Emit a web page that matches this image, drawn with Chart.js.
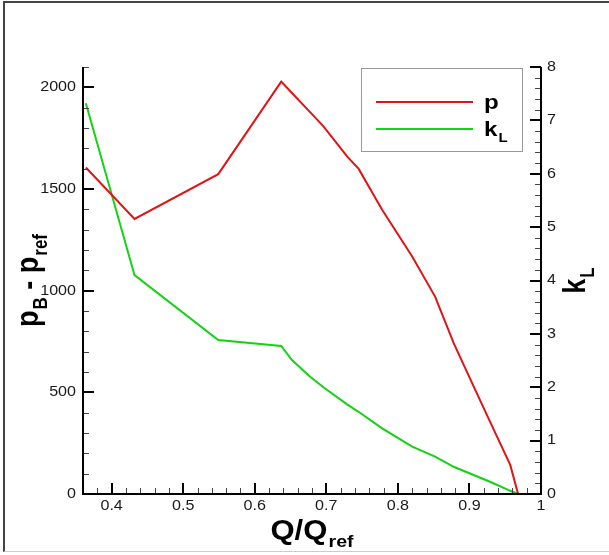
<!DOCTYPE html>
<html>
<head>
<meta charset="utf-8">
<script src="https://cdn.jsdelivr.net/npm/chart.js@4/dist/chart.umd.min.js"></script>
<style>
  html, body { margin: 0; padding: 0; background: #fff; }
  #wrap { position: relative; width: 609px; height: 555px; }
  #frame { position: absolute; left: 3px; top: 1px; width: 606px; height: 551px;
           border-top: 2px solid #444; border-left: 2px solid #444; border-bottom: 1px solid #ccc;
           box-sizing: border-box; pointer-events: none; }
</style>
</head>
<body>
<div id="wrap">
  <canvas id="chart" width="609" height="555"></canvas>
  <div id="frame"></div>
</div>
<script>
// Q/Qref sample positions
const qValues = [0.364, 0.432, 0.549, 0.637, 0.652, 0.677, 0.696, 0.729, 0.745, 0.778, 0.820, 0.852, 0.878, 0.906, 0.932, 0.957, 0.968];
// pB - pref
const pValues = [1606, 1353, 1573, 2028, 1972, 1879, 1808, 1660, 1600, 1398, 1168, 971, 742, 528, 331, 143, 0];
// kL
const kValues = [7.32, 4.10, 2.885, 2.773, 2.51, 2.20, 2.0, 1.68, 1.54, 1.23, 0.886, 0.70, 0.51, 0.356, 0.21, 0.06, 0];

const xTicks = [0.4, 0.5, 0.6, 0.7, 0.8, 0.9, 1];
const pTicks = [0, 500, 1000, 1500, 2000];
const kTicks = [0, 1, 2, 3, 4, 5, 6, 7, 8];

const RED = '#e01414';
const GREEN = '#14d214';
const STRETCH = 1.15; // picture text is a bit wide

function pts(xs, ys) {
    return xs.map((x, i) => ({ x: x, y: ys[i] }));
}

// text with horizontal stretch
function wideText(ctx, txt, x, y, font, align, base) {
    ctx.save();
    ctx.font = font;
    ctx.textAlign = align;
    ctx.textBaseline = base;
    ctx.translate(x, y);
    ctx.scale(STRETCH, 1);
    ctx.fillText(txt, 0, 0);
    ctx.restore();
}

// main text + subscript, drawn from (0,0) left/baseline in current transform
function subText(ctx, main, sub, size) {
    ctx.font = 'bold ' + size + 'px "Liberation Sans", Arial, sans-serif';
    ctx.textBaseline = 'alphabetic';
    ctx.textAlign = 'left';
    ctx.fillText(main, 0, 0);
    const w = ctx.measureText(main).width;
    ctx.font = 'bold ' + Math.round(size * 0.62) + 'px "Liberation Sans", Arial, sans-serif';
    ctx.fillText(sub, w + 1, size * 0.3);
    return w + 1 + ctx.measureText(sub).width;
}

function subWidth(ctx, main, sub, size) {
    ctx.font = 'bold ' + size + 'px "Liberation Sans", Arial, sans-serif';
    const w = ctx.measureText(main).width;
    ctx.font = 'bold ' + Math.round(size * 0.62) + 'px "Liberation Sans", Arial, sans-serif';
    return w + 1 + ctx.measureText(sub).width;
}

const axesPlugin = {
    id: 'tecAxes',
    afterDraw(chart) {
        const ctx = chart.ctx;
        const a = chart.chartArea;
        const xs = chart.scales.x, yl = chart.scales.y, yr = chart.scales.y2;
        const tickFont = '14px "Liberation Sans", Arial, sans-serif';
        ctx.save();
        ctx.fillStyle = '#1a1a1a';

        // minor ticks
        ctx.lineWidth = 1;
        ctx.strokeStyle = '#444';
        ctx.beginPath();
        for (let v = 0.38; v < 1.0; v += 0.02) {
            const px = Math.round(xs.getPixelForValue(v)) + 0.5;
            ctx.moveTo(px, a.bottom); ctx.lineTo(px, a.bottom - 6);
        }
        for (let v = 100; v <= 2100; v += 100) {
            const py = Math.round(yl.getPixelForValue(v)) + 0.5;
            ctx.moveTo(a.left, py); ctx.lineTo(a.left + 6, py);
        }
        for (let v = 0.2; v < 8; v += 0.2) {
            const py = Math.round(yr.getPixelForValue(v)) + 0.5;
            ctx.moveTo(a.right, py); ctx.lineTo(a.right - 6, py);
        }
        ctx.stroke();

        // major ticks + labels
        ctx.lineWidth = 2;
        ctx.strokeStyle = '#000';
        ctx.beginPath();
        xTicks.forEach(v => {
            const px = Math.round(xs.getPixelForValue(v));
            ctx.moveTo(px, a.bottom); ctx.lineTo(px, a.bottom - 11);
        });
        pTicks.forEach(v => {
            const py = Math.round(yl.getPixelForValue(v));
            ctx.moveTo(a.left, py); ctx.lineTo(a.left + 11, py);
        });
        kTicks.forEach(v => {
            const py = Math.round(yr.getPixelForValue(v));
            ctx.moveTo(a.right, py); ctx.lineTo(a.right - 11, py);
        });
        ctx.stroke();

        xTicks.forEach(v => wideText(ctx, String(v), xs.getPixelForValue(v), a.bottom + 5, tickFont, 'center', 'top'));
        pTicks.forEach(v => wideText(ctx, String(v), a.left - 7, yl.getPixelForValue(v), tickFont, 'right', 'middle'));
        kTicks.forEach(v => wideText(ctx, String(v), a.right + 6, yr.getPixelForValue(v), tickFont, 'left', 'middle'));

        // axis lines
        ctx.lineWidth = 2;
        ctx.beginPath();
        ctx.moveTo(a.left, a.top); ctx.lineTo(a.left, a.bottom);
        ctx.lineTo(a.right, a.bottom); ctx.lineTo(a.right, a.top);
        ctx.stroke();

        // axis titles
        ctx.fillStyle = '#000';
        const ts = 27;
        // x title
        let w = subWidth(ctx, 'Q/Q', 'ref', ts) * STRETCH;
        ctx.save();
        ctx.translate((a.left + a.right) / 2 - w / 2, 539);
        ctx.scale(STRETCH, 1);
        subText(ctx, 'Q/Q', 'ref', ts);
        ctx.restore();
        // left title (rotated)
        ctx.save();
        ctx.font = 'bold ' + ts + 'px "Liberation Sans", Arial, sans-serif';
        const w1 = ctx.measureText('p').width;
        ctx.font = 'bold ' + Math.round(ts * 0.62) + 'px "Liberation Sans", Arial, sans-serif';
        const w2 = ctx.measureText('B').width;
        ctx.font = 'bold ' + ts + 'px "Liberation Sans", Arial, sans-serif';
        const w3 = ctx.measureText(' - ').width;
        const total = w1 + 1 + w2 + w3 + subWidth(ctx, 'p', 'ref', ts);
        ctx.translate(38, (a.top + a.bottom) / 2 + total / 2);
        ctx.scale(STRETCH, 1);
        ctx.rotate(-Math.PI / 2);
        subText(ctx, 'p', 'B', ts);
        ctx.font = 'bold ' + ts + 'px "Liberation Sans", Arial, sans-serif';
        ctx.fillText(' - ', w1 + 1 + w2, 0);
        ctx.translate(w1 + 1 + w2 + w3, 0);
        subText(ctx, 'p', 'ref', ts);
        ctx.restore();
        // right title (rotated)
        ctx.save();
        const tw = subWidth(ctx, 'k', 'L', ts);
        ctx.translate(585, (a.top + a.bottom) / 2 + tw / 2);
        ctx.scale(STRETCH, 1);
        ctx.rotate(-Math.PI / 2);
        subText(ctx, 'k', 'L', ts);
        ctx.restore();

        // legend
        ctx.lineWidth = 1;
        ctx.strokeStyle = '#999';
        ctx.strokeRect(361.5, 68.5, 161, 83);
        chart.data.datasets.forEach((ds, i) => {
            const y = 102 + i * 27;
            ctx.strokeStyle = ds.borderColor;
            ctx.lineWidth = 2;
            ctx.beginPath();
            ctx.moveTo(376, y); ctx.lineTo(473, y);
            ctx.stroke();
            ctx.save();
            ctx.fillStyle = '#000';
            ctx.translate(484, y + 7);
            ctx.scale(STRETCH, 1);
            if (ds.label.indexOf('_') > 0) {
                const parts = ds.label.split('_');
                subText(ctx, parts[0], parts[1], 21);
            } else {
                subText(ctx, ds.label, '', 21);
            }
            ctx.restore();
        });
        ctx.restore();
    }
};

new Chart(document.getElementById('chart'), {
    type: 'scatter',
    data: {
        datasets: [
            { label: 'p', data: pts(qValues, pValues), yAxisID: 'y', showLine: true,
              borderColor: RED, borderWidth: 2, pointRadius: 0, fill: false },
            { label: 'k_L', data: pts(qValues, kValues), yAxisID: 'y2', showLine: true,
              borderColor: GREEN, borderWidth: 2, pointRadius: 0, fill: false }
        ]
    },
    options: {
        responsive: false,
        animation: false,
        layout: { padding: { left: 0, right: 0, top: 67, bottom: 0 } },
        plugins: { legend: { display: false }, tooltip: { enabled: false } },
        scales: {
            x: {
                type: 'linear', min: 0.36, max: 1.0,
                grid: { display: false, drawTicks: false }, border: { display: false },
                ticks: { display: false },
                afterFit(s) { s.height = 61; }
            },
            y: {
                type: 'linear', position: 'left', min: 0, max: 2100,
                grid: { display: false, drawTicks: false }, border: { display: false },
                ticks: { display: false },
                afterFit(s) { s.width = 83; }
            },
            y2: {
                type: 'linear', position: 'right', min: 0, max: 8,
                grid: { display: false, drawTicks: false }, border: { display: false },
                ticks: { display: false },
                afterFit(s) { s.width = 68; }
            }
        }
    },
    plugins: [axesPlugin]
});
</script>
</body>
</html>
